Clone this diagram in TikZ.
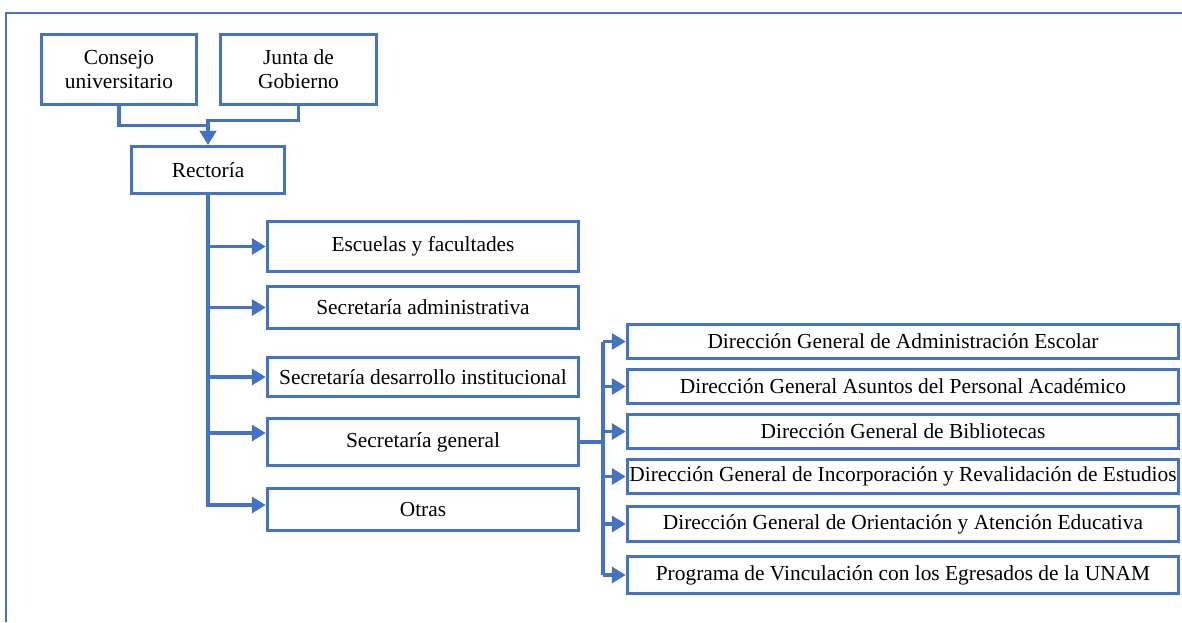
\documentclass[tikz,border=0pt]{standalone}
\usepackage{fontspec}
\setmainfont{Liberation Serif}
\usetikzlibrary{arrows.meta}
\definecolor{azul}{HTML}{4472C4}
\tikzset{
  caja/.style={draw=azul, line width=3.4pt, inner sep=1pt, align=center, font=\fontsize{21.4}{24}\selectfont},
  conector/.style={draw=azul, line width=3.4pt},
  flecha/.style={conector, -{Triangle[length=14pt,width=16pt]}},
}
\begin{document}
\begin{tikzpicture}[x=1pt,y=-1pt]
\useasboundingbox (0,0) rectangle (1182,622);
\draw[azul, line width=1.8pt] (6,622) -- (6,13) -- (1182,13);

\node[caja, minimum width=155pt, minimum height=70pt] (CU) at (119,69.5) {Consejo\\universitario};
\node[caja, minimum width=156pt, minimum height=70pt] (JG) at (298.5,69.5) {Junta de\\Gobierno};
\node[caja, minimum width=153pt, minimum height=47pt] (R)  at (208,170)   {Rectoría};

\node[caja, minimum width=311pt, minimum height=50pt] (EF) at (423,246.5) {Escuelas y facultades};
\node[caja, minimum width=311pt, minimum height=42pt] (SA) at (423,307.5) {Secretaría administrativa};
\node[caja, minimum width=311pt, minimum height=39pt] (SD) at (423,377)   {Secretaría desarrollo institucional};
\node[caja, minimum width=311pt, minimum height=47pt] (SG) at (423,442)   {Secretaría general};
\node[caja, minimum width=311pt, minimum height=42pt] (OT) at (423,509.5) {Otras};

\node[caja, minimum width=551pt, minimum height=34pt] (D1) at (903,341.5) {Dirección General de Administración Escolar};
\node[caja, minimum width=551pt, minimum height=34pt] (D2) at (903,386.5) {Dirección General Asuntos del Personal Académico};
\node[caja, minimum width=551pt, minimum height=34pt] (D3) at (903,431.5) {Dirección General de Bibliotecas};
\node[caja, minimum width=551pt, minimum height=34pt] (D4) at (903,476.5) {Dirección General de Incorporación y Revalidación de Estudios};
\node[caja, minimum width=551pt, minimum height=35pt] (D5) at (903,524)   {Dirección General de Orientación y Atención Educativa};
\node[caja, minimum width=551pt, minimum height=37pt] (D6) at (903,575)   {Programa de Vinculación con los Egresados de la UNAM};

% hacia la rectoria
\draw[flecha] (CU.south) -- ++(0,19) -| (R.north);
\draw[flecha] (JG.south) -- ++(0,14) -| (R.north);

% ramas de la rectoria
\coordinate (sgin) at ([yshift=9pt]SG.west);
\coordinate (otin) at ([yshift=4.5pt]OT.west);
\draw[flecha] (R.south) |- (otin);
\draw[flecha] (R.south |- EF.west) -- (EF.west);
\draw[flecha] (R.south |- SA.west) -- (SA.west);
\draw[flecha] (R.south |- SD.west) -- (SD.west);
\draw[flecha] (R.south |- sgin) -- (sgin);

% ramas de la secretaria general
\coordinate (bus) at (603,443);
\draw[conector] (SG.east) -- (SG.east -| bus);
\draw[conector] (bus |- D1.west) -- (bus |- D6.west);
\draw[flecha] (bus |- D1.west) -- (D1.west);
\draw[flecha] (bus |- D2.west) -- (D2.west);
\draw[flecha] (bus |- D3.west) -- (D3.west);
\draw[flecha] (bus |- D4.west) -- (D4.west);
\draw[flecha] (bus |- D5.west) -- (D5.west);
\draw[flecha] (bus |- D6.west) -- (D6.west);
\end{tikzpicture}
\end{document}
